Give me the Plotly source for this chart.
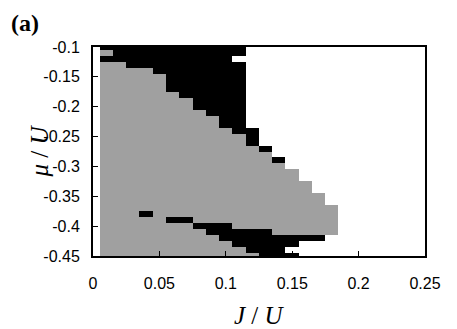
import plotly.graph_objects as go

# phase grid: '.' = white, 'g' = gray, '#' = black
J_values = [0.00, 0.01, 0.02, 0.03, 0.04, 0.05, 0.06, 0.07, 0.08, 0.09,
            0.10, 0.11, 0.12, 0.13, 0.14, 0.15, 0.16, 0.17, 0.18, 0.19,
            0.20, 0.21, 0.22, 0.23, 0.24, 0.25]
mu_values = [-0.10, -0.11, -0.12, -0.13, -0.14, -0.15, -0.16, -0.17, -0.18,
             -0.19, -0.20, -0.21, -0.22, -0.23, -0.24, -0.25, -0.26, -0.27,
             -0.28, -0.29, -0.30, -0.31, -0.32, -0.33, -0.34, -0.35, -0.36,
             -0.37, -0.38, -0.39, -0.40, -0.41, -0.42, -0.43, -0.44, -0.45]
phase_rows = [
    ".###########..............",
    ".g##########..............",
    ".##########...............",
    ".gg#########..............",
    ".gggg#######..............",
    ".ggggg######..............",
    ".ggggg######..............",
    ".ggggg######..............",
    ".gggggg#####..............",
    ".ggggggg####..............",
    ".ggggggg####..............",
    ".gggggggg###..............",
    ".ggggggggg##..............",
    ".ggggggggg##..............",
    ".gggggggggg##.............",
    ".ggggggggggg#.............",
    ".ggggggggggg#.............",
    ".gggggggggggg#............",
    ".ggggggggggggg............",
    ".ggggggggggggg#...........",
    ".gggggggggggggg...........",
    ".ggggggggggggggg..........",
    ".ggggggggggggggg..........",
    ".gggggggggggggggg.........",
    ".gggggggggggggggg.........",
    ".ggggggggggggggggg........",
    ".ggggggggggggggggg........",
    ".gggggggggggggggggg.......",
    ".ggg#gggggggggggggg.......",
    ".ggggg##ggggggggggg.......",
    ".ggggggg###gggggggg.......",
    ".gggggggg#####ggggg.......",
    ".ggggggggg########........",
    ".gggggggggg#####..........",
    ".ggggggggggg###...........",
    ".gggggggggggg###..........",
]
x_ticks = [0, 0.05, 0.1, 0.15, 0.2, 0.25]
x_labels = ["0", "0.05", "0.1", "0.15", "0.2", "0.25"]
y_ticks = [-0.1, -0.15, -0.2, -0.25, -0.3, -0.35, -0.4, -0.45]
y_labels = ["-0.1", "-0.15", "-0.2", "-0.25", "-0.3", "-0.35", "-0.4", "-0.45"]

code = {".": 0, "g": 1, "#": 2}
z = [[code[c] for c in row] for row in phase_rows]

fig = go.Figure(go.Heatmap(
    x=J_values, y=mu_values, z=z,
    zmin=0, zmax=2,
    colorscale=[[0, "#ffffff"], [0.333, "#ffffff"],
                [0.333, "#a0a0a0"], [0.667, "#a0a0a0"],
                [0.667, "#000000"], [1, "#000000"]],
    showscale=False, hoverinfo="skip",
))

axis_style = dict(showline=True, linecolor="black", linewidth=2, mirror=True,
                  ticks="inside", ticklen=5, tickwidth=1, tickcolor="black",
                  showgrid=False, zeroline=False,
                  tickfont=dict(family="Liberation Sans", size=16, color="black"))

fig.update_xaxes(range=[0, 0.25], tickvals=x_ticks, ticktext=x_labels,
                 ticklabelstandoff=12, **axis_style)
fig.update_yaxes(range=[-0.45, -0.1], tickvals=y_ticks, ticktext=y_labels,
                 ticklabelstandoff=8, **axis_style)

# the page body adds an 8px offset, so the figure is sized a bit smaller
fig.update_layout(
    width=449, height=321,
    margin=dict(l=85, r=32, t=39, b=73),
    plot_bgcolor="white", paper_bgcolor="white",
    showlegend=False,
    annotations=[
        dict(text="<b>(a)</b>", xref="paper", yref="paper", x=0, y=1,
             xshift=-84, yshift=39, xanchor="left", yanchor="top",
             showarrow=False,
             font=dict(family="Liberation Serif", size=24, color="black")),
        dict(text="<i>J</i> / <i>U</i>", xref="paper", yref="paper", x=0.5, y=0,
             yshift=-44, xanchor="center", yanchor="top", showarrow=False,
             font=dict(family="Liberation Serif", size=25, color="black")),
        dict(text="<i>μ</i> / <i>U</i>", xref="paper", yref="paper", x=0, y=0.5,
             xshift=-54, xanchor="center", yanchor="middle", textangle=-90,
             showarrow=False,
             font=dict(family="Liberation Serif", size=25, color="black")),
    ],
)

fig.write_html("out.html")
